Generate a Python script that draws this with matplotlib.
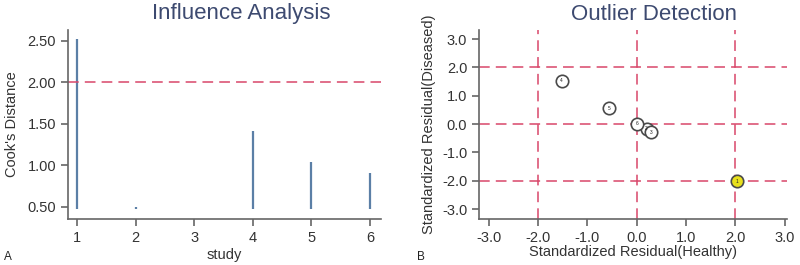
import matplotlib
matplotlib.use("Agg")
import matplotlib.pyplot as plt

plt.rcParams['font.family'] = ['Liberation Sans', 'DejaVu Sans']

# Panel A data
studies = [1, 2, 3, 4, 5, 6]
cooks_distance = [2.52, 0.50, 0.48, 1.42, 1.04, 0.91]
cooks_base = 0.48
cooks_threshold = 2.0
a_yticks = [0.50, 1.00, 1.50, 2.00, 2.50]

# Panel B data
study_labels = ['1', '2', '3', '4', '5', '6']
resid_healthy = [2.04, 0.20, 0.30, -1.52, -0.56, 0.00]
resid_diseased = [-2.02, -0.17, -0.28, 1.53, 0.55, 0.02]
outlier_flag = [True, False, False, False, False, False]
b_ticks = [-3.0, -2.0, -1.0, 0.0, 1.0, 2.0, 3.0]
b_refs = [-2.0, 0.0, 2.0]

W, H = 800, 265
fig = plt.figure(figsize=(8, 2.65), dpi=100)

tick_color = '#333333'
spine_color = '#666666'
red = '#d9466a'
title_color = '#3d4a70'
dash = (0, (7, 4))

def style(ax):
    for s in ['top', 'right']:
        ax.spines[s].set_visible(False)
    for s in ['left', 'bottom']:
        ax.spines[s].set_color(spine_color)
        ax.spines[s].set_linewidth(1.2)
    ax.tick_params(direction='out', length=5, width=1.2, colors=spine_color,
                   labelcolor=tick_color, labelsize=10.5)

# Panel A
axA = fig.add_axes([68 / W, 1 - 219 / H, (381 - 68) / W, (219 - 30) / H])
style(axA)
axA.vlines(studies, cooks_base, cooks_distance, color='#5b7fa6', linewidth=1.6)
axA.axhline(cooks_threshold, color=red, linewidth=1.1, linestyle=dash)
axA.set_xlim(0.846, 6.19)
axA.set_ylim(0.355, 2.63)
axA.set_xticks(studies)
axA.set_yticks(a_yticks)
axA.set_yticklabels([f'{v:.2f}' for v in a_yticks])
axA.set_xlabel('study', fontsize=10.5, color=tick_color, labelpad=2)
axA.set_ylabel("Cook's Distance", fontsize=10.5, color=tick_color, labelpad=6)
fig.text(241 / W, 1 - 14 / H, 'Influence Analysis', ha='center', va='center',
         fontsize=16, color=title_color)
fig.text(4 / W, 1 - 257 / H, 'A', ha='left', va='center', fontsize=8.5, color='#222222')

# Panel B
axB = fig.add_axes([479 / W, 1 - 219 / H, (787 - 479) / W, (219 - 30) / H])
style(axB)
for v in b_refs:
    axB.axhline(v, color=red, linewidth=1.1, linestyle=dash, zorder=1)
    axB.axvline(v, color=red, linewidth=1.1, linestyle=dash, zorder=1)
for x, y, lab, out in zip(resid_healthy, resid_diseased, study_labels, outlier_flag):
    fc = '#e8e01c' if out else 'white'
    ec = '#4a4a4a'
    axB.scatter([x], [y], s=80, facecolor=fc, edgecolor=ec, linewidth=1.2, zorder=3)
    axB.text(x, y, lab, ha='center', va='center', fontsize=3.5, color='#222222', zorder=4)
axB.set_xlim(-3.2, 3.05)
axB.set_ylim(-3.35, 3.32)
axB.set_xticks(b_ticks)
axB.set_yticks(b_ticks)
axB.set_xticklabels([f'{v:.1f}' for v in b_ticks])
axB.set_yticklabels([f'{v:.1f}' for v in b_ticks])
axB.set_xlabel('Standardized Residual(Healthy)', fontsize=10.5, color=tick_color, labelpad=0)
axB.set_ylabel('Standardized Residual(Diseased)', fontsize=10.5, color=tick_color, labelpad=4)
fig.text(654 / W, 1 - 14 / H, 'Outlier Detection', ha='center', va='center',
         fontsize=16, color=title_color)
fig.text(417 / W, 1 - 257 / H, 'B', ha='left', va='center', fontsize=8.5, color='#222222')

fig.savefig('out.png', dpi=100)
